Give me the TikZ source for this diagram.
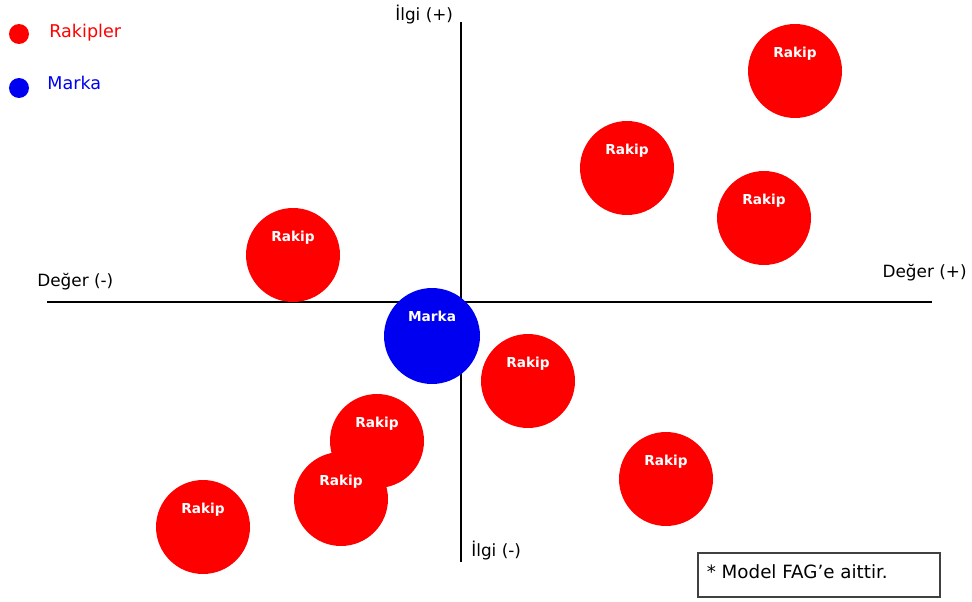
\documentclass[tikz,border=0pt]{standalone}
\usepackage{fontspec}
\setmainfont{DejaVu Sans}
\usetikzlibrary{calc,positioning}
\definecolor{rakipkirmizi}{RGB}{255,0,0}
\definecolor{markamavi}{RGB}{0,0,240}
\tikzset{
  eksen/.style={draw=black,line width=1.1pt},
  rakip/.style={circle,fill=rakipkirmizi,minimum size=1.88cm,inner sep=0pt},
  marka/.style={circle,fill=markamavi,minimum size=1.92cm,inner sep=0pt},
  etiket/.style={text=white,font=\fontsize{7.8}{9}\selectfont\bfseries},
  ekslbl/.style={font=\fontsize{9.6}{11}\selectfont,text=black,inner sep=0pt},
  lgnd/.style={circle,minimum size=0.4cm,inner sep=0pt},
  lgndlbl/.style={font=\fontsize{10}{12}\selectfont,inner sep=0pt,anchor=west}
}
\begin{document}
\begin{tikzpicture}[x=0.02cm,y=-0.02cm]
  \useasboundingbox (0,0) rectangle (972,601);
  % Legend
  \node[lgnd,fill=rakipkirmizi] (lr) at (19,34) {};
  \node[lgndlbl,text=rakipkirmizi] (lrt) at (49,33) {Rakipler};
  \node[lgnd,fill=markamavi] (lm) at (19,88) {};
  \node[lgndlbl,text=markamavi] (lmt) at (47,83) {Marka};

  % Axes
  \coordinate (xsol) at (47,302);
  \coordinate (xsag) at (932,302);
  \coordinate (yust) at (461,22);
  \coordinate (yalt) at (461,562);
  \draw[eksen] (xsol) -- (xsag);
  \draw[eksen] (yust) -- (yalt);
  \node[ekslbl,anchor=west] (ilgiarti) at (395,15) {İlgi (+)};
  \node[ekslbl,anchor=west] (ilgieksi) at (471,551) {İlgi (-)};
  \node[ekslbl,anchor=east] (degerarti) at (967,273) {Değer (+)};
  \node[ekslbl,anchor=west] (degereksi) at (37,282) {Değer (-)};

  % Competitors
  \foreach \n/\x/\y in {1/795/71,2/627/168,3/764/218,4/293/255,5/528/381,6/666/479,7/377/441,8/341/499,9/203/527}{
    \node[rakip] (r\n) at (\x,\y) {};
    \node[etiket] at ($(r\n)+(0,-17)$) {Rakip};
  }

  % Brand
  \node[marka] (m) at (432,336) {};
  \node[etiket] at ($(m)+(0,-20)$) {Marka};

  % Note
  \node[draw=black!75,line width=0.7pt,minimum width=4.84cm,minimum height=0.88cm,inner sep=0pt] (not) at (819,575) {};
  \node[font=\fontsize{10.4}{12}\selectfont,anchor=west,inner sep=0pt] (nott) at ([xshift=0.18cm,yshift=0.06cm]not.west) {* Model FAG’e aittir.};
\end{tikzpicture}
\end{document}
